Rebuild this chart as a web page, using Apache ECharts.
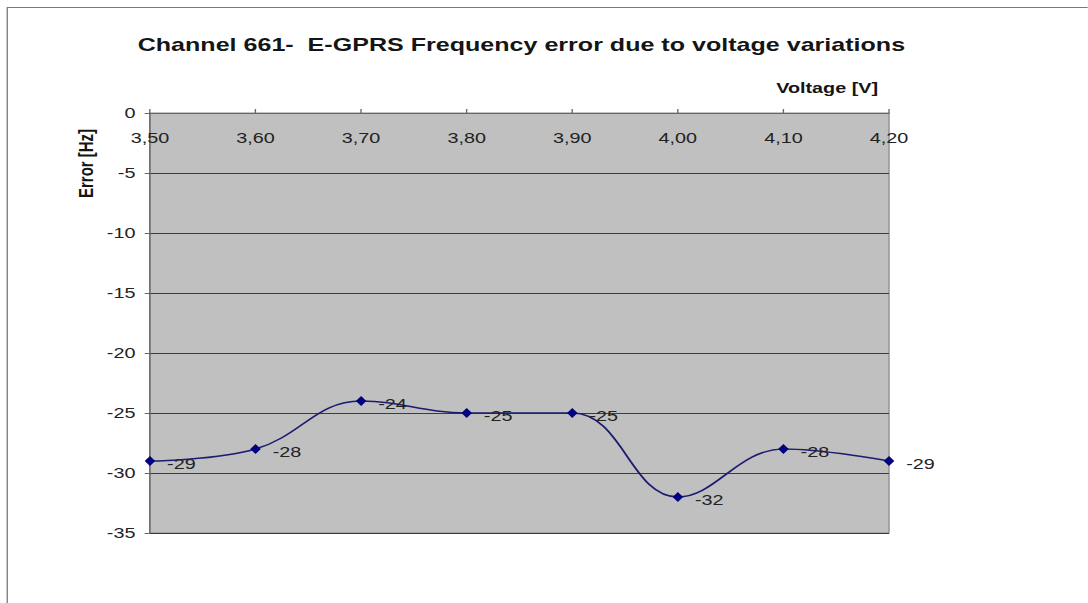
<!DOCTYPE html>
<html>
<head>
<meta charset="utf-8">
<script src="https://cdn.jsdelivr.net/npm/echarts@6/dist/echarts.min.js"></script>
<style>
  html, body { margin: 0; padding: 0; background: #fff; overflow: hidden; }
  /* the source picture is stretched sideways, so the chart is drawn narrow and widened */
  #chart { width: 824px; height: 603px; transform: scaleX(1.32); transform-origin: 0 0; }
</style>
</head>
<body>
<div id="chart"></div>
<script>
// data
var voltages = ['3,50', '3,60', '3,70', '3,80', '3,90', '4,00', '4,10', '4,20']
var errors = [-29, -28, -24, -25, -25, -32, -28, -29]
var yTicks = { min: -35, max: 0, step: 5 }

var chart = echarts.init(document.getElementById('chart'), null, { renderer: 'svg' })
var font = 'Arial, "Liberation Sans", sans-serif'

var option = {
  backgroundColor: '#fff',
  animation: false,
  title: {
    text: 'Channel 661-  E-GPRS Frequency error due to voltage variations',
    left: 390,
    textAlign: 'center',
    top: 30,
    textStyle: { fontFamily: font, fontSize: 19, fontWeight: 'bold', color: '#151515' }
  },
  graphic: [
    // outer chart frame
    {
      type: 'rect',
      shape: { x: 5.5, y: 7.5, width: 900, height: 620 },
      style: { fill: 'none', stroke: '#7a7a7a', lineWidth: 1 },
      z: -1
    },
    {
      type: 'text',
      left: 588,
      top: 80,
      style: { text: 'Voltage [V]', fontFamily: font, fontSize: 15, fontWeight: 'bold', fill: '#151515' }
    },
    {
      type: 'text',
      x: 58,
      y: 198,
      rotation: Math.PI / 2,
      style: { text: 'Error [Hz]', fontFamily: font, fontSize: 15, fontWeight: 'bold', fill: '#151515' }
    }
  ],
  grid: {
    left: 113.6,
    right: 150.5,
    top: 113,
    bottom: 70,
    show: true,
    backgroundColor: '#C0C0C0',
    borderColor: '#8a8a8a',
    borderWidth: 1
  },
  xAxis: {
    type: 'category',
    data: voltages,
    position: 'top',
    boundaryGap: false,
    axisLine: { show: true, lineStyle: { color: '#666', width: 1 } },
    axisTick: { show: true, inside: false, length: 4, lineStyle: { color: '#666' } },
    axisLabel: {
      inside: true,
      margin: 17,
      fontFamily: font,
      fontSize: 15,
      color: '#222',
      showMinLabel: true,
      showMaxLabel: true
    },
    splitLine: { show: false }
  },
  yAxis: {
    type: 'value',
    min: yTicks.min,
    max: yTicks.max,
    interval: yTicks.step,
    axisLine: { show: true, lineStyle: { color: '#666', width: 1 } },
    axisTick: { show: true, length: 4, lineStyle: { color: '#666' } },
    axisLabel: { margin: 11, fontFamily: font, fontSize: 15, color: '#222' },
    splitLine: { show: true, lineStyle: { color: '#3c3c3c', width: 1 } }
  },
  series: [
    {
      type: 'line',
      data: errors,
      smooth: 0.4,
      symbol: 'diamond',
      symbolSize: [8, 10],
      lineStyle: { color: '#1c1c70', width: 1.5 },
      itemStyle: { color: '#000080' },
      label: {
        show: true,
        position: 'right',
        distance: 9,
        offset: [0, 3],
        fontFamily: font,
        fontSize: 15,
        color: '#222'
      }
    }
  ]
}
chart.setOption(option)
</script>
</body>
</html>
